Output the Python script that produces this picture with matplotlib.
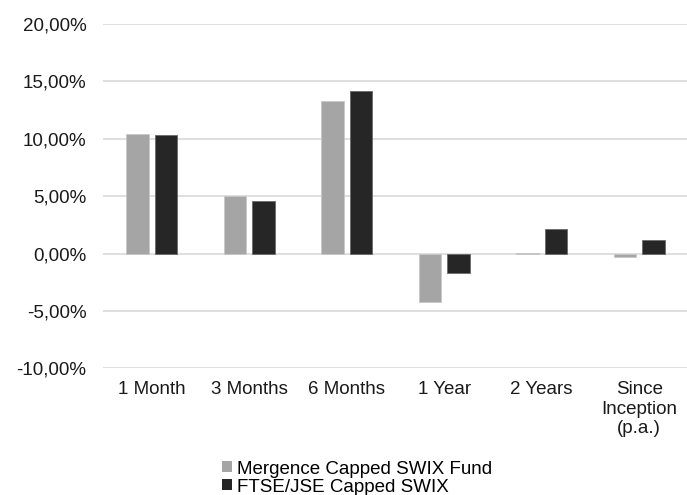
import matplotlib
matplotlib.use("Agg")
import matplotlib.pyplot as plt
import numpy as np
from matplotlib.ticker import FuncFormatter
from matplotlib.patches import Patch

plt.rcParams['font.family'] = ['Liberation Sans', 'DejaVu Sans']

# data (percent)
categories = ["1 Month", "3 Months", "6 Months", "1 Year", "2 Years", "Since\nInception\n(p.a.)"]
fund = [10.39, 5.03, 13.28, -4.18, 0.05, -0.30]
index = [10.33, 4.57, 14.15, -1.70, 2.10, 1.20]
series_names = ["Mergence Capped SWIX Fund", "FTSE/JSE Capped SWIX"]
series_colors = ['#a5a5a5', '#262626']

fs = 13.5
fig = plt.figure(figsize=(6.87, 4.95), dpi=100)
W, H = 687, 495
left, right, top, bottom = 103, 688, 24, 368.3
ax = fig.add_axes([left / W, 1 - bottom / H, (right - left) / W, (bottom - top) / H])

x = np.arange(len(categories))
w = 0.235
off = 0.146
ax.bar(x - off, fund, w, color=series_colors[0], edgecolor='#c8c8c8', linewidth=0.6, zorder=3)
ax.bar(x + off, index, w, color=series_colors[1], edgecolor='#6a6a6a', linewidth=0.6, zorder=3)

ax.set_xlim(-0.5, len(categories) - 0.5)
ax.set_ylim(-10, 20)
ax.set_yticks(np.arange(-10, 21, 5))
ax.yaxis.set_major_formatter(FuncFormatter(lambda v, p: f"{v:.2f}%".replace('.', ',')))
ax.set_xticks(x)
ax.set_xticklabels(categories, linespacing=1.17)
ax.tick_params(axis='y', length=0, pad=12, labelsize=fs, colors='#1a1a1a')
ax.tick_params(axis='x', length=0, pad=9.5, labelsize=fs, colors='#1a1a1a')
ax.grid(True, axis='y', color='#d9d9d9', linewidth=1.2, zorder=0)
for s in ax.spines.values():
    s.set_visible(False)

# legend: one row each, stacked tightly as in the original
for i, (name, col) in enumerate(zip(series_names, series_colors)):
    h = Patch(facecolor=col, edgecolor='none')
    leg = fig.legend(handles=[h], labels=[name], loc='center left',
                     bbox_to_anchor=(222 / W, 1 - (469 + 18 * i) / H), frameon=False,
                     fontsize=fs, handlelength=0.53, handleheight=0.53, handletextpad=0.27,
                     borderpad=0, borderaxespad=0)

fig.savefig("out.png", dpi=100)
